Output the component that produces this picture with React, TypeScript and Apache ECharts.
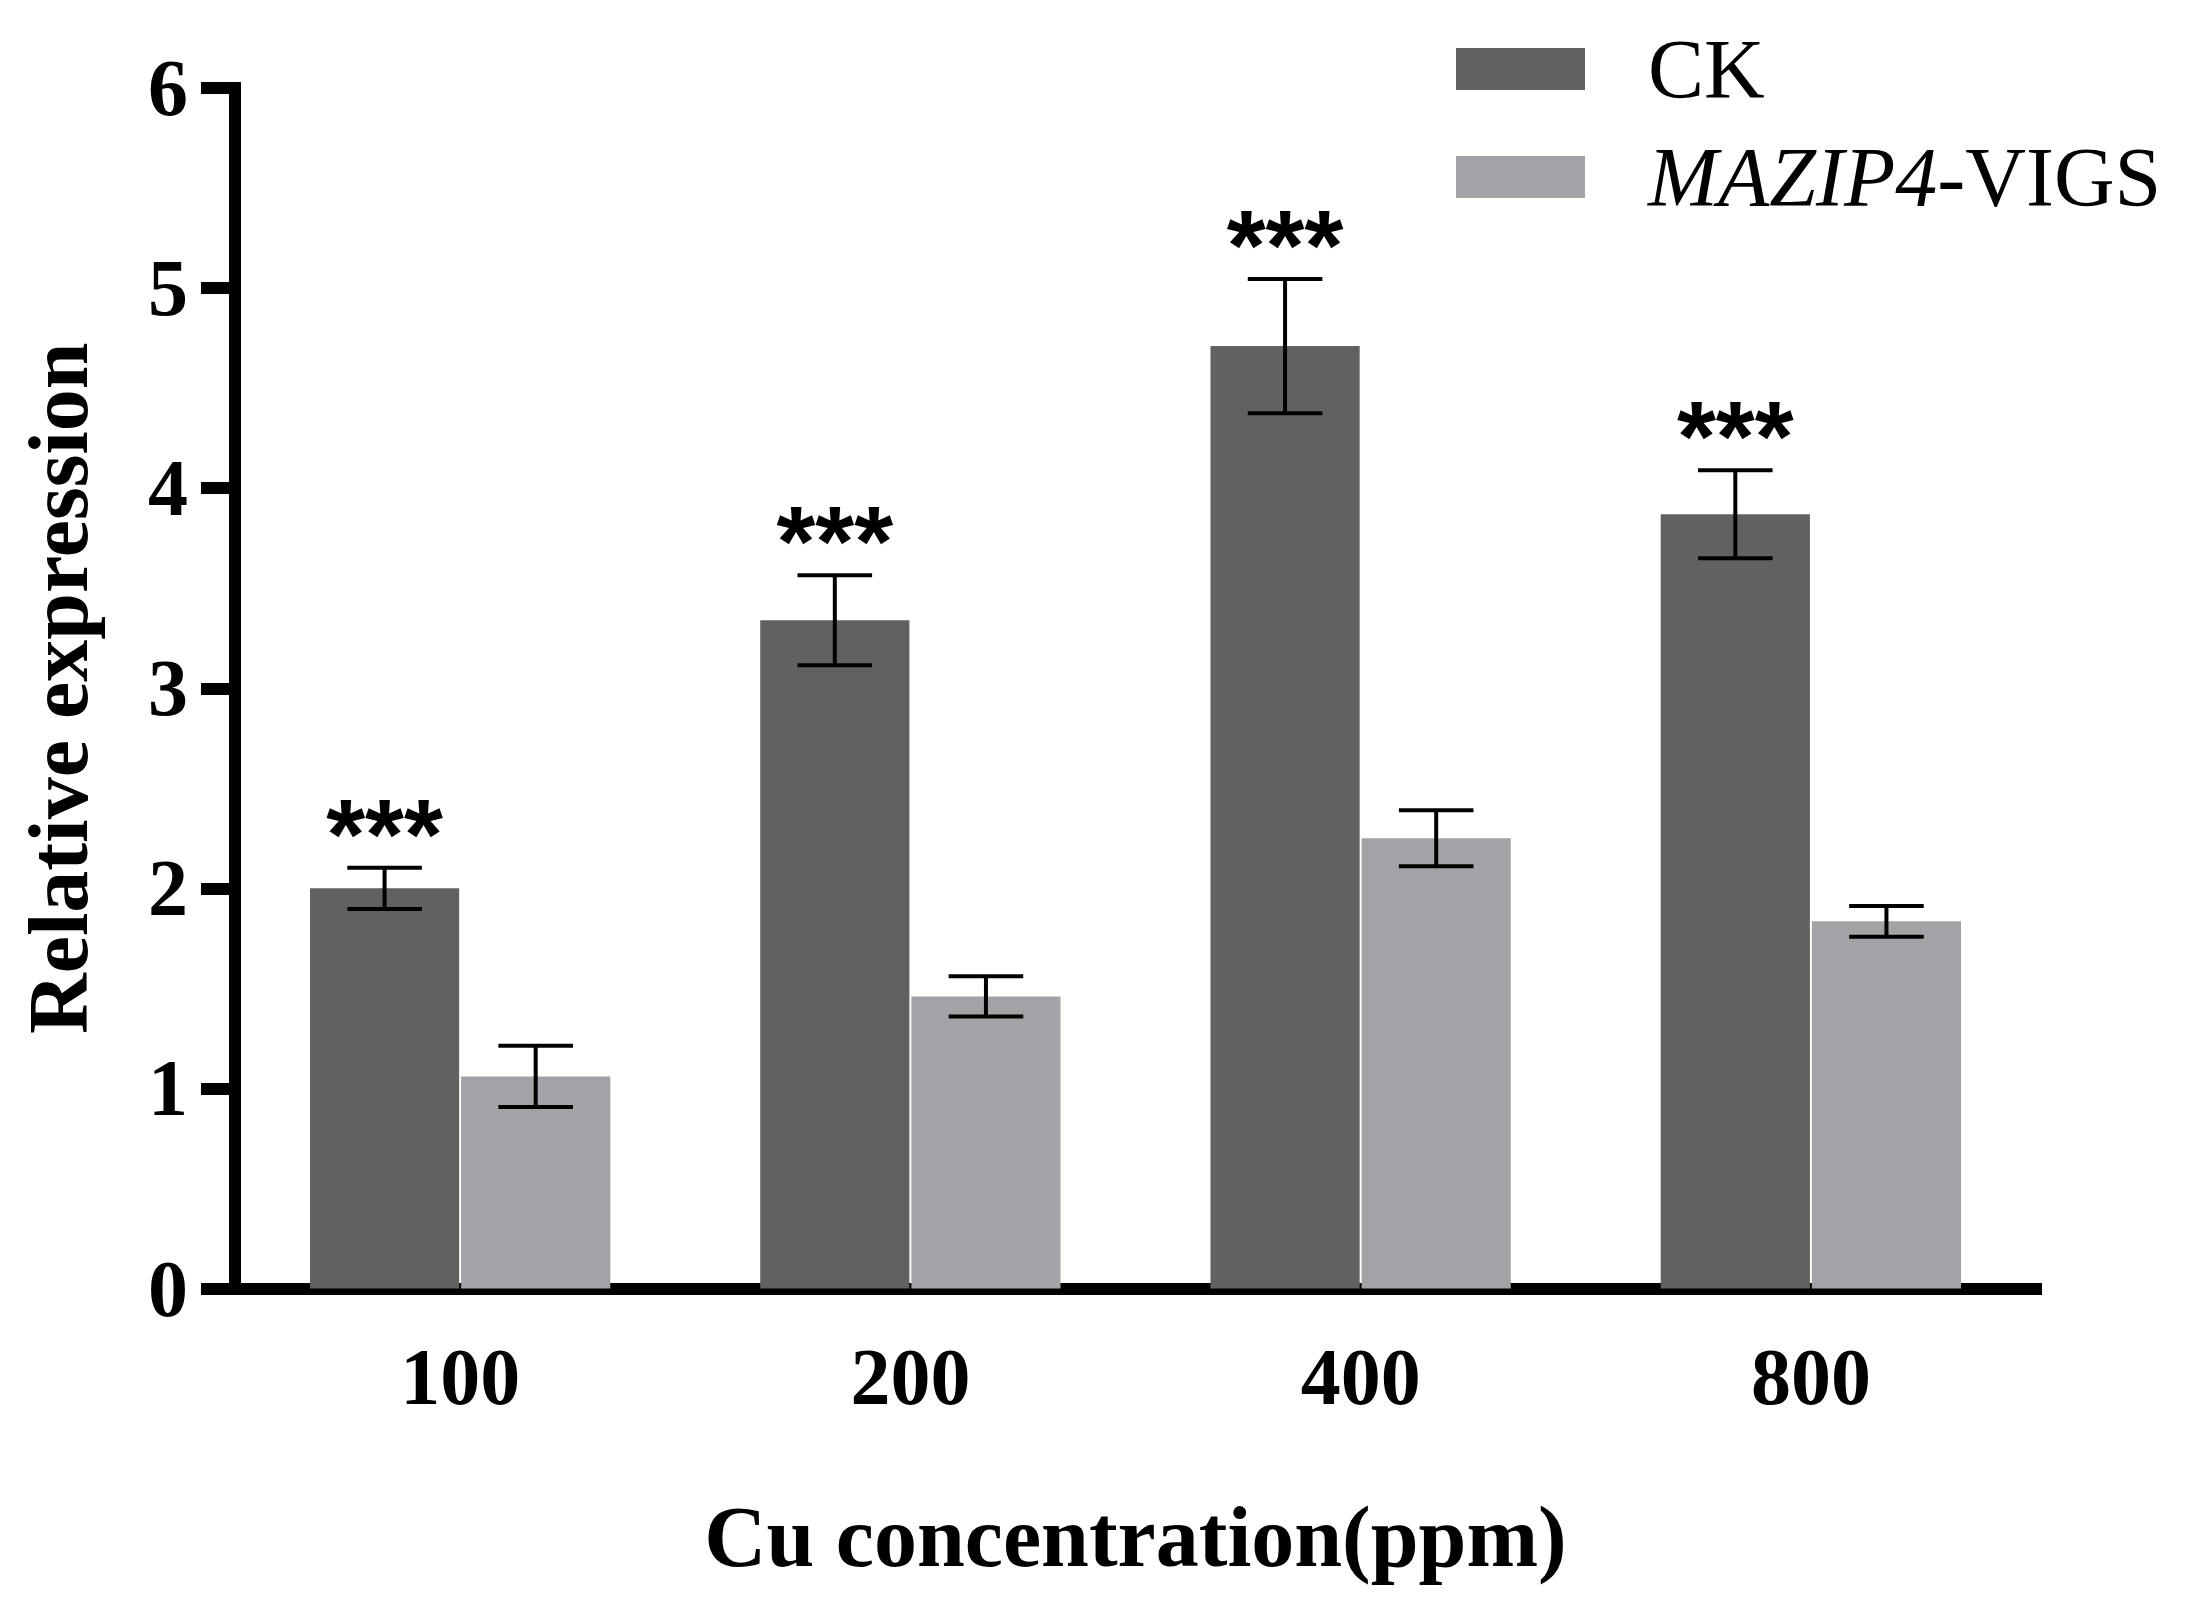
import React, { useEffect, useRef } from "react";
import * as echarts from "echarts";

const categories = ["100", "200", "400", "800"];
const ckValues = [2.0, 3.34, 4.71, 3.87];
const ckErrors = [0.103, 0.225, 0.335, 0.22];
const vigsValues = [1.06, 1.46, 2.25, 1.835];
const vigsErrors = [0.153, 0.1, 0.14, 0.077];
const significance = ["***", "***", "***", "***"];
const yTicks = [0, 1, 2, 3, 4, 5, 6];

const CK_COLOR = "#616161";
const VIGS_COLOR = "#a2a3a6";
const SERIF = "'Liberation Serif', 'Times New Roman', serif";

const CATEGORY_GAP = 0.333;
const BAR_GAP = 0.013;

function makeErrorRender(side: number, stars: string[] | null) {
  return (params: any, api: any) => {
    const idx = api.value(0);
    const val = api.value(1);
    const err = api.value(2);
    const band = api.size([1, 0])[0];
    const bw = (band * (1 - CATEGORY_GAP)) / (2 + BAR_GAP);
    const offset = side * (bw * (1 + BAR_GAP)) / 2;
    const c = api.coord([idx, val]);
    const x = c[0] + offset;
    const yTop = api.coord([idx, val + err])[1];
    const yBot = api.coord([idx, val - err])[1];
    const half = bw * 0.25;
    const ls = { stroke: "#000", lineWidth: 4 };
    const children: any[] = [
      { type: "line", shape: { x1: x, y1: yTop, x2: x, y2: yBot }, style: ls },
      { type: "line", shape: { x1: x - half, y1: yTop, x2: x + half, y2: yTop }, style: ls },
      { type: "line", shape: { x1: x - half, y1: yBot, x2: x + half, y2: yBot }, style: ls },
    ];
    if (stars) {
      children.push({
        type: "text",
        x: x,
        y: yTop - 34,
        style: {
          text: stars[params.dataIndex],
          fill: "#000",
          font: "bold 100px 'Liberation Sans', Arial, sans-serif",
          align: "center",
          verticalAlign: "middle",
        },
      });
    }
    return { type: "group", children };
  };
}

export default function App() {
  const ref = useRef<HTMLDivElement>(null);
  useEffect(() => {
    if (!ref.current) return;
    const chart = echarts.init(ref.current, null, { renderer: "svg" });
    const option: any = {
      animation: false,
      backgroundColor: "#fff",
      grid: { left: 235, right: 172, top: 88, bottom: 335.5, containLabel: false },
      legend: {
        data: ["CK", "MAZIP4-VIGS"],
        orient: "vertical",
        left: 1451,
        top: 22,
        itemWidth: 129,
        itemHeight: 42,
        itemGap: 24,
        icon: "rect",
        selectedMode: false,
        formatter: (name: string) =>
          name === "CK" ? "{n|CK}" : "{i|MAZIP4}{n|-VIGS}",
        textStyle: {
          color: "#000",
          fontSize: 84,
          fontFamily: SERIF,
          padding: [0, 0, 0, 58],
          rich: {
            n: { fontSize: 84, fontFamily: SERIF, color: "#000" },
            i: { fontSize: 84, fontFamily: SERIF, color: "#000", fontStyle: "italic" },
          },
        },
      },
      xAxis: {
        type: "category",
        data: categories,
        name: "Cu concentration(ppm)",
        nameLocation: "middle",
        nameGap: 205,
        nameTextStyle: { fontSize: 86, fontWeight: "bold", fontFamily: SERIF, color: "#000" },
        axisLine: { lineStyle: { color: "#000", width: 12, cap: "square" } },
        axisTick: { alignWithLabel: true, length: 34, lineStyle: { color: "#000", width: 7 } },
        axisLabel: { fontSize: 80, fontWeight: "bold", fontFamily: SERIF, color: "#000", margin: 48 },
        splitLine: { show: false },
      },
      yAxis: {
        type: "value",
        min: yTicks[0],
        max: yTicks[yTicks.length - 1],
        interval: 1,
        name: "Relative expression",
        nameLocation: "middle",
        nameGap: 135,
        nameTextStyle: { fontSize: 84, fontWeight: "bold", fontFamily: SERIF, color: "#000" },
        axisLine: { show: true, lineStyle: { color: "#000", width: 12, cap: "square" } },
        axisTick: { show: true, length: 34, lineStyle: { color: "#000", width: 12 } },
        axisLabel: { fontSize: 80, fontWeight: "bold", fontFamily: SERIF, color: "#000", margin: 47 },
        splitLine: { show: false },
      },
      series: [
        {
          name: "CK",
          type: "bar",
          data: ckValues,
          barCategoryGap: CATEGORY_GAP * 100 + "%",
          barGap: BAR_GAP * 100 + "%",
          itemStyle: { color: CK_COLOR },
          z: 2,
        },
        {
          name: "MAZIP4-VIGS",
          type: "bar",
          data: vigsValues,
          barCategoryGap: CATEGORY_GAP * 100 + "%",
          barGap: BAR_GAP * 100 + "%",
          itemStyle: { color: VIGS_COLOR },
          z: 2,
        },
        {
          name: "ckErr",
          type: "custom",
          data: ckValues.map((v, i) => [i, v, ckErrors[i]]),
          renderItem: makeErrorRender(-1, significance),
          z: 10,
          clip: false,
        },
        {
          name: "vigsErr",
          type: "custom",
          data: vigsValues.map((v, i) => [i, v, vigsErrors[i]]),
          renderItem: makeErrorRender(1, null),
          z: 10,
          clip: false,
        },
      ],
    };
    chart.setOption(option);
    return () => chart.dispose();
  }, []);
  return (
    <div
      ref={ref}
      style={{ position: "fixed", left: 0, top: 0, width: 2208, height: 1624, background: "#fff" }}
    />
  );
}
